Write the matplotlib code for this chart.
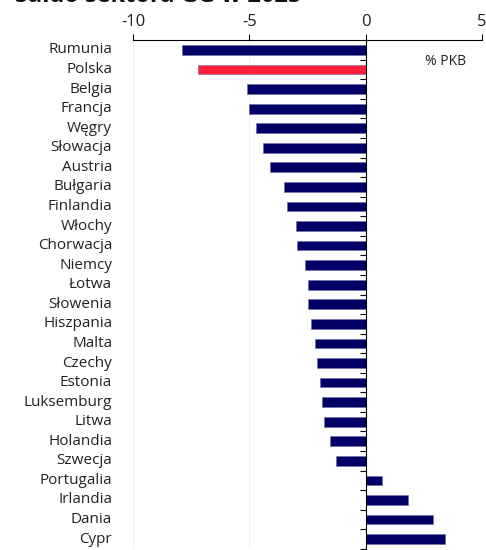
import numpy as np
import matplotlib.pyplot as plt
from matplotlib.transforms import blended_transform_factory

# Saldo sektora GG (% PKB)
kraje = ['Rumunia', 'Polska', 'Belgia', 'Francja', 'Węgry', 'Słowacja', 'Austria',
         'Bułgaria', 'Finlandia', 'Włochy', 'Chorwacja', 'Niemcy', 'Łotwa', 'Słowenia',
         'Hiszpania', 'Malta', 'Czechy', 'Estonia', 'Luksemburg', 'Litwa', 'Holandia',
         'Szwecja', 'Portugalia', 'Irlandia', 'Dania', 'Cypr']
saldo = [-7.9, -7.2, -5.1, -5.0, -4.7, -4.4, -4.1,
         -3.5, -3.4, -3.0, -2.95, -2.6, -2.5, -2.5,
         -2.35, -2.2, -2.1, -1.95, -1.9, -1.8, -1.55,
         -1.3, 0.7, 1.8, 2.9, 3.4]
podswietl = 'Polska'

plt.rcParams['font.family'] = ['Open Sans', 'DejaVu Sans']
plt.rcParams['axes.unicode_minus'] = False

NAVY = '#000066'
RED = '#ff1f3a'

fig = plt.figure(figsize=(4.86, 5.5), dpi=100)
ax = fig.add_axes([0.274, 0.002, 0.718, 0.925])

y = np.arange(len(kraje))
kolory = [RED if k == podswietl else NAVY for k in kraje]
ax.barh(y, saldo, height=0.5, color=kolory, edgecolor='#6a6a9a', linewidth=0.4, zorder=3)

ax.set_xlim(-10, 5)
ax.set_ylim(len(kraje) - 0.5, -0.5)
ax.set_xticks([-10, -5, 0, 5])
ax.xaxis.tick_top()
ax.tick_params(axis='x', direction='out', length=4, width=0.8, labelsize=12, pad=3,
               labelcolor='#222222')
ax.grid(axis='x', color='#eeeeee', linewidth=0.6, zorder=0)

# os Y w punkcie zero, kreski miedzy kategoriami
for s in ['right', 'bottom']:
    ax.spines[s].set_visible(False)
ax.spines['top'].set_linewidth(0.8)
ax.spines['left'].set_position(('data', 0))
ax.spines['left'].set_linewidth(0.8)
ax.spines['left'].set_zorder(4)
ax.set_yticks(y)
ax.set_yticklabels([])
ax.tick_params(axis='y', which='major', length=0)
ax.set_yticks(np.arange(len(kraje)) + 0.5, minor=True)
ax.tick_params(axis='y', which='minor', direction='out', length=4, width=0.8)

tr = blended_transform_factory(ax.transAxes, ax.transData)
for yi, k in zip(y, kraje):
    ax.text(-0.06, yi, k, transform=tr, ha='right', va='center', fontsize=11, color='#222222')

ax.text(0.895, 0.958, '% PKB', transform=ax.transAxes, ha='center', va='center',
        fontsize=10, color='#222222')

fig.text(0.03, 0.997, 'Saldo sektora GG w 2025', fontsize=17, fontweight='bold',
         ha='left', va='baseline', color='#111111')

fig.savefig('out.png', dpi=100)
